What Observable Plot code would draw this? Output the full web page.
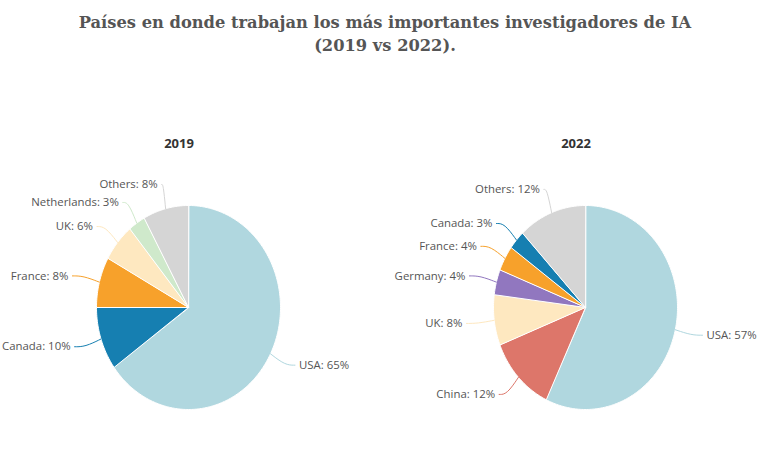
<!DOCTYPE html>
<html>
<head>
<meta charset="utf-8">
<script src="https://cdn.jsdelivr.net/npm/d3@7"></script>
<script src="https://cdn.jsdelivr.net/npm/@observablehq/plot@0.6"></script>
<style>
  html, body { margin: 0; padding: 0; background: #ffffff; }
  #wrap { position: relative; width: 770px; height: 453px; overflow: hidden; }
  #title { position: absolute; top: 11px; left: 0; width: 770px; text-align: center;
    font-family: "DejaVu Serif", serif; font-weight: bold;
    font-size: 16.3px; line-height: 23px; color: #555555; }
  #title span { white-space: nowrap; }
  #chart { position: absolute; top: 60px; left: 0; }
</style>
</head>
<body>
<div id="wrap">
  <div id="title"><span id="t1">Países en donde trabajan los más importantes investigadores de IA</span><br><span>(2019 vs 2022).</span></div>
  <div id="chart"></div>
</div>
<script>
// ---- data ----
const years = ["2019", "2022"];
const countries2019 = ["USA", "Canada", "France", "UK", "Netherlands", "Others"];
const values2019 = [65, 10, 8, 6, 3, 8];
const countries2022 = ["USA", "China", "UK", "Germany", "France", "Canada", "Others"];
const values2022 = [57, 12, 8, 4, 4, 3, 12];
const colorDomain = ["USA", "Canada", "France", "UK", "Netherlands", "Germany", "China", "Others"];
const colorRange = ["#b0d7df", "#167fb1", "#f7a12b", "#fee8c0", "#cfe9cb", "#9177bf", "#dd766a", "#d5d5d5"];

// ---- layout constants (pixels) ----
const W = 770, H = 393;
const RX = 92, RY = 102;          // pie radii in px
const CX = 188, CY = 247;         // pie center within facet band / svg
const LABEL_RX = 124, LABEL_RY = 127; // label distance from center in px
const GAP = 4;

const series = [
  {year: years[0], countries: countries2019, values: values2019},
  {year: years[1], countries: countries2022, values: values2022}
];

const slices = [], labels = [], connectors = [];
for (const s of series) {
  const total = d3.sum(s.values);
  let acc = 0;
  s.countries.forEach((c, i) => {
    const v = s.values[i];
    const a0 = acc / total * 2 * Math.PI;
    acc += v;
    const a1 = acc / total * 2 * Math.PI;
    const id = s.year + "-" + c;
    slices.push({year: s.year, country: c, id, x: 0, y: 0});
    const n = Math.max(2, Math.ceil((a1 - a0) / (Math.PI / 180)));
    for (let k = 0; k <= n; k++) {
      const a = a0 + (a1 - a0) * k / n;
      slices.push({year: s.year, country: c, id, x: Math.sin(a), y: Math.cos(a)});
    }
    const m = (a0 + a1) / 2;
    const side = Math.sin(m) < 0 ? -1 : 1;
    const lx = LABEL_RX / RX * Math.sin(m), ly = LABEL_RY / RY * Math.cos(m);
    labels.push({year: s.year, country: c, text: `${c}: ${v}%`, x: lx, y: ly, anchor: side < 0 ? "end" : "start"});
    const p0 = {x: Math.sin(m), y: Math.cos(m)};
    const p2 = {x: lx - side * GAP / RX, y: ly};
    const p1 = {x: p0.x + 0.6 * (p2.x - p0.x), y: p2.y};
    for (const p of [p0, p1, p2]) connectors.push({year: s.year, country: c, id, x: p.x, y: p.y});
  });
}

const bandW = 373;
const chart = Plot.plot({
  width: W, height: H,
  margin: 0,
  fx: {domain: years, paddingInner: 0.0605, paddingOuter: 0, axis: null},
  x: {domain: [-CX / RX, (bandW - CX) / RX], axis: null},
  y: {domain: [-(H - CY) / RY, CY / RY], axis: null},
  color: {domain: colorDomain, range: colorRange},
  style: {fontFamily: "'Open Sans', sans-serif", overflow: "visible", background: "transparent"},
  marks: [
    Plot.line(slices, {fx: "year", x: "x", y: "y", z: "id", fill: "country", stroke: "#ffffff", strokeWidth: 1, strokeLinejoin: "round", curve: "linear-closed"}),
    Plot.line(connectors, {fx: "year", x: "x", y: "y", z: "id", stroke: "country", strokeWidth: 1, curve: "basis"}),
    Plot.text(labels.filter(d => d.anchor === "end"), {fx: "year", x: "x", y: "y", text: "text", textAnchor: "end", fill: "#555555", fontSize: 11.4}),
    Plot.text(labels.filter(d => d.anchor === "start"), {fx: "year", x: "x", y: "y", text: "text", textAnchor: "start", fill: "#555555", fontSize: 11.4}),
    Plot.text(years, {fx: d => d, text: d => d, frameAnchor: "top", lineAnchor: "middle", dy: 83, dx: -8, fill: "#333333", fontSize: 13, fontWeight: "bold"})
  ]
});
document.getElementById("chart").appendChild(chart);
</script>
</body>
</html>
